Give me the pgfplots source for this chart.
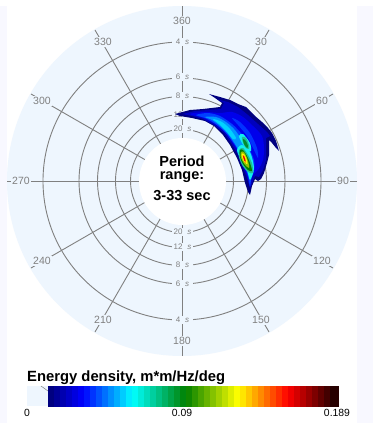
\documentclass[border=0pt]{standalone}
\usepackage{fontspec}
\setmainfont{Liberation Sans}
\usepackage{pgfplots}
\pgfplotsset{compat=1.18}
\definecolor{disk}{HTML}{EEF6FE}
\definecolor{ghost}{HTML}{F8F8FF}
\definecolor{gridc}{HTML}{808080}
\newcommand{\lev}[2]{\addplot[fill=#1,draw=none,forget plot,smooth cycle,tension=0.5] coordinates {#2};}
\newcommand{\ringlab}[2]{\node[fill=disk,inner sep=0pt,text=gridc,font=\fontsize{8}{8}\selectfont,minimum width=21pt,minimum height=8pt] at (axis cs:182.5,#2) {#1\hspace{5pt}\textit{s}};}
\newcommand{\dirlab}[3]{\node[fill=disk,inner sep=1pt,text=gridc,font=\fontsize{10.5}{10.5}\selectfont] at (axis cs:#1,#2) {#3};}
\begin{document}
\begin{tikzpicture}
\begin{axis}[
  scale only axis, width=373pt, height=423pt,
  xmin=0, xmax=373, ymin=0, ymax=423, y dir=reverse,
  hide axis,
  point meta min=48, point meta max=338,
  colormap={wave}{rgb255(48)=(0,0,128) rgb255(80)=(0,0,255) rgb255(130)=(0,255,255) rgb255(183)=(0,128,0) rgb255(235)=(255,255,0) rgb255(285)=(255,0,0) rgb255(338)=(0,0,0)},
]
% page background
\addplot[fill=white,draw=none,forget plot] coordinates {(0,0)(373,0)(373,423)(0,423)} --cycle;
\addplot[fill=ghost,draw=none,forget plot] coordinates {(0,6)(7,6)(7,423)(0,423)} --cycle;
\addplot[fill=ghost,draw=none,forget plot] coordinates {(357,6)(373,6)(373,423)(357,423)} --cycle;
% disk and grid
\fill[disk] (axis cs:182,181) circle[radius=175];
\draw[gridc,line width=0.9pt] (axis cs:182,181) circle[radius=139];
\draw[gridc,line width=0.9pt] (axis cs:182,181) circle[radius=103];
\draw[gridc,line width=0.9pt] (axis cs:182,181) circle[radius=84.5];
\draw[gridc,line width=0.9pt] (axis cs:182,181) circle[radius=66.5];
\draw[gridc,line width=0.9pt] (axis cs:182,181) circle[radius=51.5];
\draw[gridc,line width=0.9pt] (axis cs:182,6)--(axis cs:182,356);
\draw[gridc,line width=0.9pt] (axis cs:7,181)--(axis cs:357,181);
\draw[gridc,line width=0.9pt] (axis cs:269,30)--(axis cs:95,332);
\draw[gridc,line width=0.9pt] (axis cs:95,30)--(axis cs:269,332);
\draw[gridc,line width=0.9pt] (axis cs:31,94)--(axis cs:333,268);
\draw[gridc,line width=0.9pt] (axis cs:31,268)--(axis cs:333,94);
\ringlab{4}{41.5}\ringlab{6}{77}\ringlab{8}{96}\ringlab{12}{115}\ringlab{20}{129}
\ringlab{4}{320}\ringlab{6}{284}\ringlab{8}{265}\ringlab{12}{247}\ringlab{20}{232}
\dirlab{182}{21}{360}\dirlab{261}{42}{30}\dirlab{322}{101}{60}\dirlab{343}{181}{90}
\dirlab{322}{261}{120}\dirlab{261}{320}{150}\dirlab{182}{341}{180}\dirlab{103}{320}{210}
\dirlab{42}{261}{240}\dirlab{21}{181}{270}\dirlab{42}{101}{300}\dirlab{103}{42}{330}
% spectrum: nested levels
\addplot[fill={rgb,255:red,0;green,0;blue,128},draw=none,forget plot] coordinates {
(209,94)(220,97)(230,100)(238,104)(246,107)(255,116)(262,122)(268,128)(272,133)(276,141)(279,151)
(276,148)(272,143)(269,140)(269,146)(269,155)(267,163)(264,173)(261,179)(258,181)(255,179)(252,186)(250,195)
(248,192)(245,183)(242,170)(237,158)(230,145)(223,135)(214,126)(205,121)(192,118)(180,116)(175,114)
(190,110)(203,109)(220,107)(222,103)(215,98)} --cycle;
\addplot[fill={rgb,255:red,0;green,0;blue,190},draw=none,forget plot] coordinates {
(182,114)(195,111)(208,110)(221,109)(224,103)(218,99.5)(228,102)(238,107)(248,115)(258,124)(267,132)(273,140)(270,136)(266,138)(266,150)(266,160)(263,170)(259,177)(255,176)(250,188)(247,178)(243,168)(238,155)(231,143)(224,133)(214,125)(203,119)(192,116)} --cycle;
\lev{{rgb,255:red,0;green,0;blue,235}}{(190,114)(205,112)(220,113)(232,112)(243,117)(253,126)(262,136)(264,148)(263,160)(258,170)(252,176)(250,187)(248,178)(244,167)(239,154)(232,142)(225,132)(215,124)(203,118)}
\lev{{rgb,255:red,0;green,50;blue,255}}{(232,118)(240,122)(250,133)(257,148)(258,158)(254,150)(247,136)(238,125)}
\lev{{rgb,255:red,0;green,64;blue,255}}{(196,115)(208,113)(220,116)(232,124)(240,132)(247,140)(250,150)(254,160)(254,170)(251,180)(250,186)(248,176)(244,165)(239,152)(232,141)(224,131)(214,123)(205,118)}
\lev{{rgb,255:red,0;green,150;blue,255}}{(205,117)(216,117)(226,122)(234,129)(240,137)(245,145)(250,155)(252,165)(251,176)(249,176)(246,168)(241,155)(235,144)(228,134)(220,126)(212,120)}
\lev{{rgb,255:red,0;green,210;blue,255}}{(213,119)(222,122)(230,129)(236,138)(233,139)(226,131)(219,124)}
\lev{{rgb,255:red,16;green,240;blue,240}}{(237,150)(242,145)(250,152)(254,168)(250,180)(247,170)(241,160)}
\lev{{rgb,255:red,16;green,240;blue,240}}{(239,136)(243,134)(250,143)(251,151)(247,150)(242,143)}
\lev{{rgb,255:red,32;green,190;blue,150}}{(242,137)(246,138)(249,145)(249,149)(246,148)(243,143)}
\lev{{rgb,255:red,0;green,140;blue,50}}{(243,139)(246,141)(248,146)(247,148)(244,144)}
\lev{{rgb,255:red,32;green,190;blue,150}}{(239,150)(243,148)(248,155)(252,163)(253,173)(248,172)(242,165)(239,157)}
\lev{{rgb,255:red,0;green,128;blue,0}}{(240,150)(243,150)(247,156)(250,163)(252,171)(248,170)(243,164)(240,157)}
\lev{{rgb,255:red,144;green,192;blue,0}}{(241,152)(244,152)(247,158)(249,165)(249,168)(245,165)(242,160)(240.5,156)}
\lev{{rgb,255:red,255;green,255;blue,0}}{(241.5,154)(244,154)(246.5,159)(247.5,164)(245.5,163)(243,160)}
\lev{{rgb,255:red,255;green,140;blue,0}}{(242.5,155)(244.5,156)(246,161)(246,163)(244,160.5)}
\lev{{rgb,255:red,230;green,0;blue,0}}{(243,156)(244.5,157.5)(245.5,161)(244.5,161)}
% centre
\fill[white] (axis cs:182.5,181.5) circle[radius=43.5];
\node[font=\fontsize{14.5}{14.5}\selectfont\bfseries] at (axis cs:182,161) {Period};
\node[font=\fontsize{14.5}{14.5}\selectfont\bfseries] at (axis cs:182,177) {range:};
\node[font=\fontsize{14.5}{14.5}\selectfont\bfseries] at (axis cs:182,196) {3-33 sec};
% colour bar
\node[anchor=base west,inner sep=0pt,font=\fontsize{14.8}{14.8}\selectfont\bfseries] at (axis cs:27,381) {Energy density, m*m/Hz/deg};
\addplot[fill=disk,draw=none,forget plot] coordinates {(27,386)(48,386)(48,406)(27,406)} --cycle;
\draw[gridc,line width=0.5pt] (axis cs:41,386)--(axis cs:48,391);
\addplot[surf,shader=flat corner,mesh/rows=2,point meta=x,forget plot] coordinates {
(48,386)(54,386)(60,386)(66,386)(72,386)(78,386)(84,386)(90,386)(96,386)(102,386)(108,386)(114,386)(120,386)(126,386)(132,386)(138,386)(144,386)(150,386)(156,386)(162,386)(168,386)(174,386)(180,386)(186,386)(192,386)(198,386)(204,386)(210,386)(216,386)(222,386)(228,386)(234,386)(240,386)(246,386)(252,386)(258,386)(264,386)(270,386)(276,386)(282,386)(288,386)(294,386)(300,386)(306,386)(312,386)(318,386)(324,386)(330,386)(338,386)

(48,406)(54,406)(60,406)(66,406)(72,406)(78,406)(84,406)(90,406)(96,406)(102,406)(108,406)(114,406)(120,406)(126,406)(132,406)(138,406)(144,406)(150,406)(156,406)(162,406)(168,406)(174,406)(180,406)(186,406)(192,406)(198,406)(204,406)(210,406)(216,406)(222,406)(228,406)(234,406)(240,406)(246,406)(252,406)(258,406)(264,406)(270,406)(276,406)(282,406)(288,406)(294,406)(300,406)(306,406)(312,406)(318,406)(324,406)(330,406)(338,406)};
\node[font=\fontsize{10.4}{10.4}\selectfont] at (axis cs:27,413) {0};
\node[font=\fontsize{10.4}{10.4}\selectfont] at (axis cs:182,413) {0.09};
\node[font=\fontsize{10.4}{10.4}\selectfont] at (axis cs:337,413) {0.189};
\end{axis}
\end{tikzpicture}
\end{document}
